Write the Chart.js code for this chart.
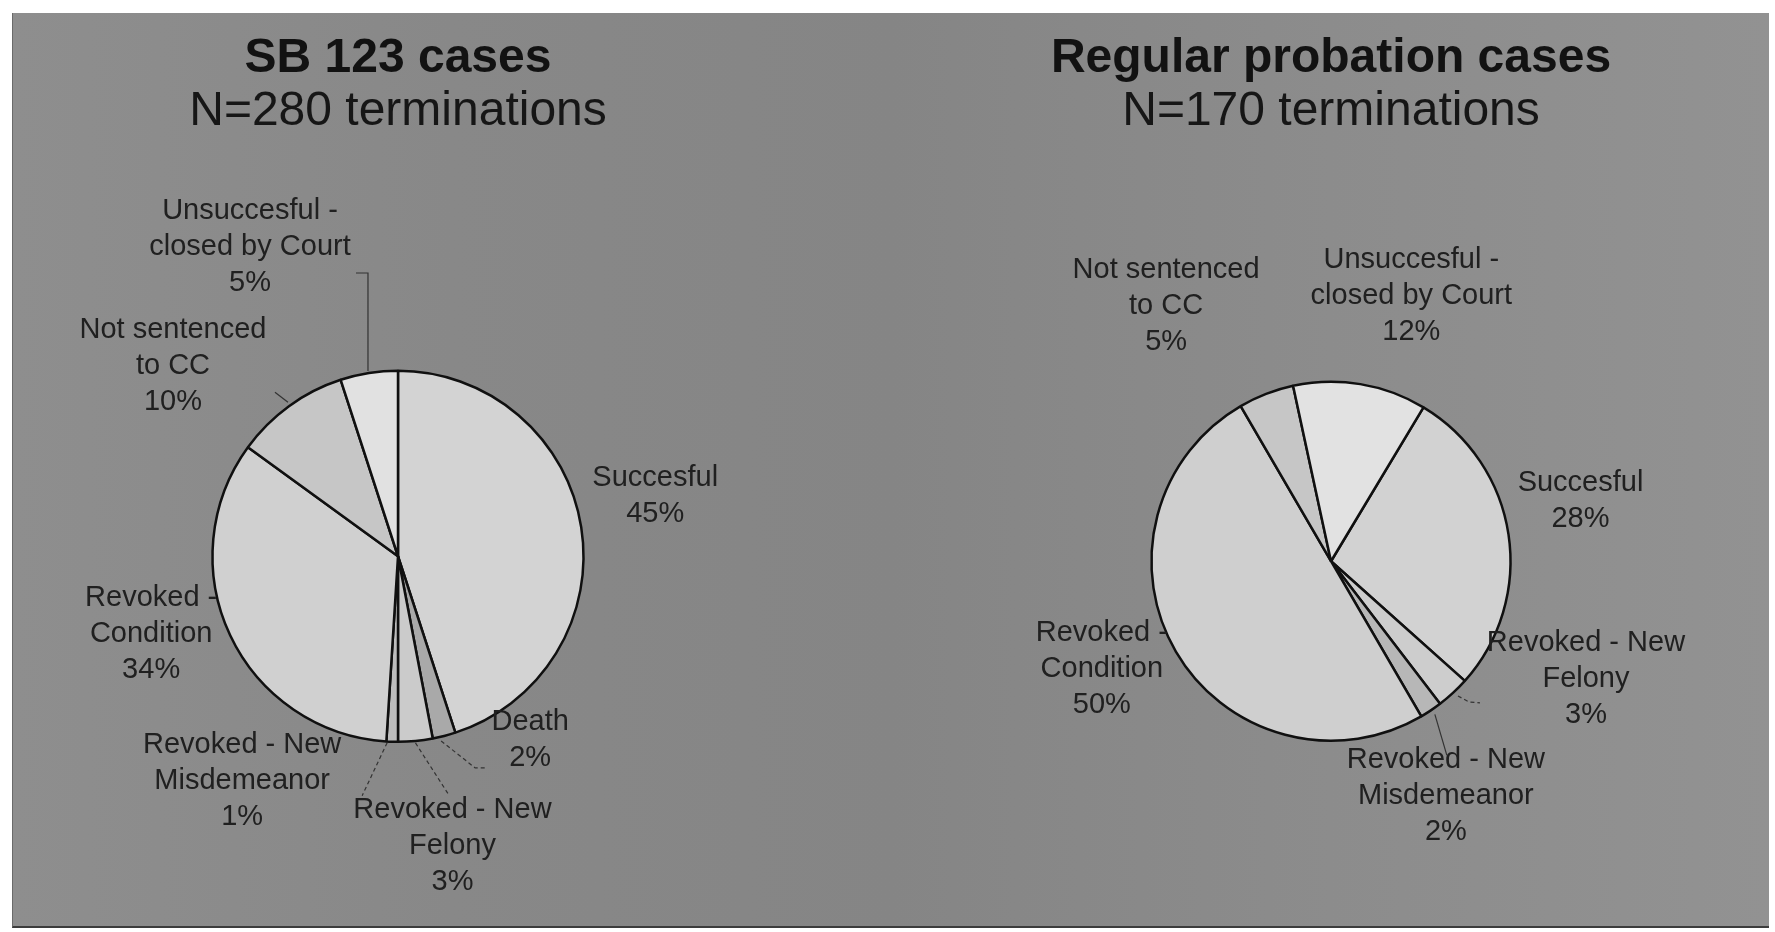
<!DOCTYPE html>
<html>
<head>
<meta charset="utf-8">
<script src="https://cdn.jsdelivr.net/npm/chart.js@4/dist/chart.umd.min.js"></script>
<style>
  html, body { margin: 0; padding: 0; background: #ffffff; overflow: hidden; }
  body { width: 1775px; height: 932px; position: relative; }
  #panel {
    position: absolute; left: 12px; top: 13px; width: 1756px; height: 913px;
    background: linear-gradient(90deg, #8e8e8e 0%, #888888 25%, #858585 50%, #8c8c8c 75%, #929292 100%);
    border-bottom: 2px solid #3c3c3c;
    border-left: 1px solid #6a6a6a;
  }
  canvas { position: absolute; top: 0; }
  #sb { left: 0; }
  #reg { left: 887px; }
</style>
</head>
<body>
<div id="panel"></div>
<canvas id="sb" width="798" height="932"></canvas>
<canvas id="reg" width="888" height="932"></canvas>
<script>
// SB 123 cases (N=280 terminations), share of terminations in %
const sbCategories = [
  ['Succesful'],
  ['Death'],
  ['Revoked - New', 'Felony'],
  ['Revoked - New', 'Misdemeanor'],
  ['Revoked -', 'Condition'],
  ['Not sentenced', 'to CC'],
  ['Unsuccesful -', 'closed by Court']
];
const sbValues = [45, 2, 3, 1, 34, 10, 5];

// Regular probation cases (N=170 terminations), share of terminations in %
const regCategories = [
  ['Succesful'],
  ['Revoked - New', 'Felony'],
  ['Revoked - New', 'Misdemeanor'],
  ['Revoked -', 'Condition'],
  ['Not sentenced', 'to CC'],
  ['Unsuccesful -', 'closed by Court']
];
const regValues = [28, 3, 2, 50, 5, 12];

// ---- styling -------------------------------------------------------------
const FONT = '"Liberation Sans", Arial, sans-serif';
const sbColors  = ['#d3d3d3', '#a9a9a9', '#cbcbcb', '#bdbdbd', '#d0d0d0', '#c6c6c6', '#e1e1e1'];
const regColors = ['#d2d2d2', '#cdcdcd', '#b7b7b7', '#cfcfcf', '#c6c6c6', '#e2e2e2'];

// Where each slice label sits, relative to the middle of its arc on the rim,
// plus optional leader polylines (also relative to that rim point).
const sbPlacement = [
  { dx: 74,   dy: -31 },
  { dx: 86,   dy: 4,    leader: [[-3, 5], [31, 32], [42, 32]], dashed: true },
  { dx: 37,   dy: 105,  leader: [[0, 2], [34, 55]], dashed: true },
  { dx: -150, dy: 39,   leader: [[-5, 1], [-30, 54]], dashed: true },
  { dx: -79,  dy: -1 },
  { dx: -116, dy: -40,  leader: [[-1, -4], [-14, -14]] },
  { dx: -119, dy: -126, leader: [[-1, -2], [-1, -100], [-13, -100]] }
];
const regPlacement = [
  { dx: 72,   dy: -33 },
  { dx: 133,  dy: -14,  leader: [[5, 3], [16, 9], [27, 10]], dashed: true },
  { dx: 15,   dy: 86,   leader: [[4, 4], [16, 45]] },
  { dx: -74,  dy: 17 },
  { dx: -100, dy: -88 },
  { dx: 51,   dy: -88 }
];

// Draws the category name and percentage next to every slice.
const sliceLabels = {
  id: 'sliceLabels',
  afterDatasetsDraw(chart, args, opts) {
    const ctx = chart.ctx;
    const meta = chart.getDatasetMeta(0);
    const data = chart.data.datasets[0].data;
    ctx.save();
    meta.data.forEach((arc, i) => {
      const p = arc.getProps(['x', 'y', 'startAngle', 'endAngle', 'outerRadius'], true);
      const mid = (p.startAngle + p.endAngle) / 2;
      const ex = p.x + Math.cos(mid) * p.outerRadius;
      const ey = p.y + Math.sin(mid) * p.outerRadius;
      const place = opts.placement[i];
      if (place.leader) {
        ctx.beginPath();
        ctx.setLineDash(place.dashed ? [4, 3] : []);
        ctx.strokeStyle = opts.leaderColor;
        ctx.lineWidth = 1.2;
        place.leader.forEach(([dx, dy], k) => {
          if (k === 0) ctx.moveTo(ex + dx, ey + dy); else ctx.lineTo(ex + dx, ey + dy);
        });
        ctx.stroke();
      }
      ctx.setLineDash([]);
      const lines = chart.data.labels[i].concat([data[i] + '%']);
      ctx.font = opts.fontSize + 'px ' + FONT;
      ctx.fillStyle = opts.color;
      ctx.textAlign = 'center';
      ctx.textBaseline = 'middle';
      const cx = ex + place.dx, cy = ey + place.dy;
      lines.forEach((t, k) => {
        ctx.fillText(t, cx, cy + (k - (lines.length - 1) / 2) * opts.lineHeight);
      });
    });
    ctx.restore();
  }
};

function pieConfig(labels, values, colors, title, subtitle, rotation, placement, padTop, padBottom, padRight) {
  return {
    type: 'pie',
    data: {
      labels: labels,
      datasets: [{
        data: values,
        backgroundColor: colors,
        borderColor: '#101010',
        borderWidth: 2.5,
        hoverBorderWidth: 2.5,
        hoverOffset: 0
      }]
    },
    options: {
      responsive: false,
      animation: false,
      devicePixelRatio: 1,
      rotation: rotation,
      layout: { padding: { top: 0, bottom: padBottom, left: 0, right: padRight } },
      events: [],
      plugins: {
        legend: { display: false },
        tooltip: { enabled: false },
        title: {
          display: true,
          text: title,
          color: '#121212',
          font: { family: FONT, size: 48, weight: 'bold', lineHeight: 1.08 },
          padding: { top: 33, bottom: 0 }
        },
        subtitle: {
          display: true,
          text: subtitle,
          color: '#161616',
          font: { family: FONT, size: 48, weight: 'normal', lineHeight: 1.08 },
          padding: { top: 1, bottom: padTop }
        },
        sliceLabels: {
          placement: placement,
          fontSize: 29,
          lineHeight: 36,
          color: '#202020',
          leaderColor: '#333333'
        }
      }
    },
    plugins: [sliceLabels]
  };
}

new Chart(document.getElementById('sb'),
  pieConfig(sbCategories, sbValues, sbColors, 'SB 123 cases', 'N=280 terminations',
            0, sbPlacement, 231.8, 189, 2));

new Chart(document.getElementById('reg'),
  pieConfig(regCategories, regValues, regColors, 'Regular probation cases', 'N=170 terminations',
            31, regPlacement, 242.8, 190, 0));
</script>
</body>
</html>
